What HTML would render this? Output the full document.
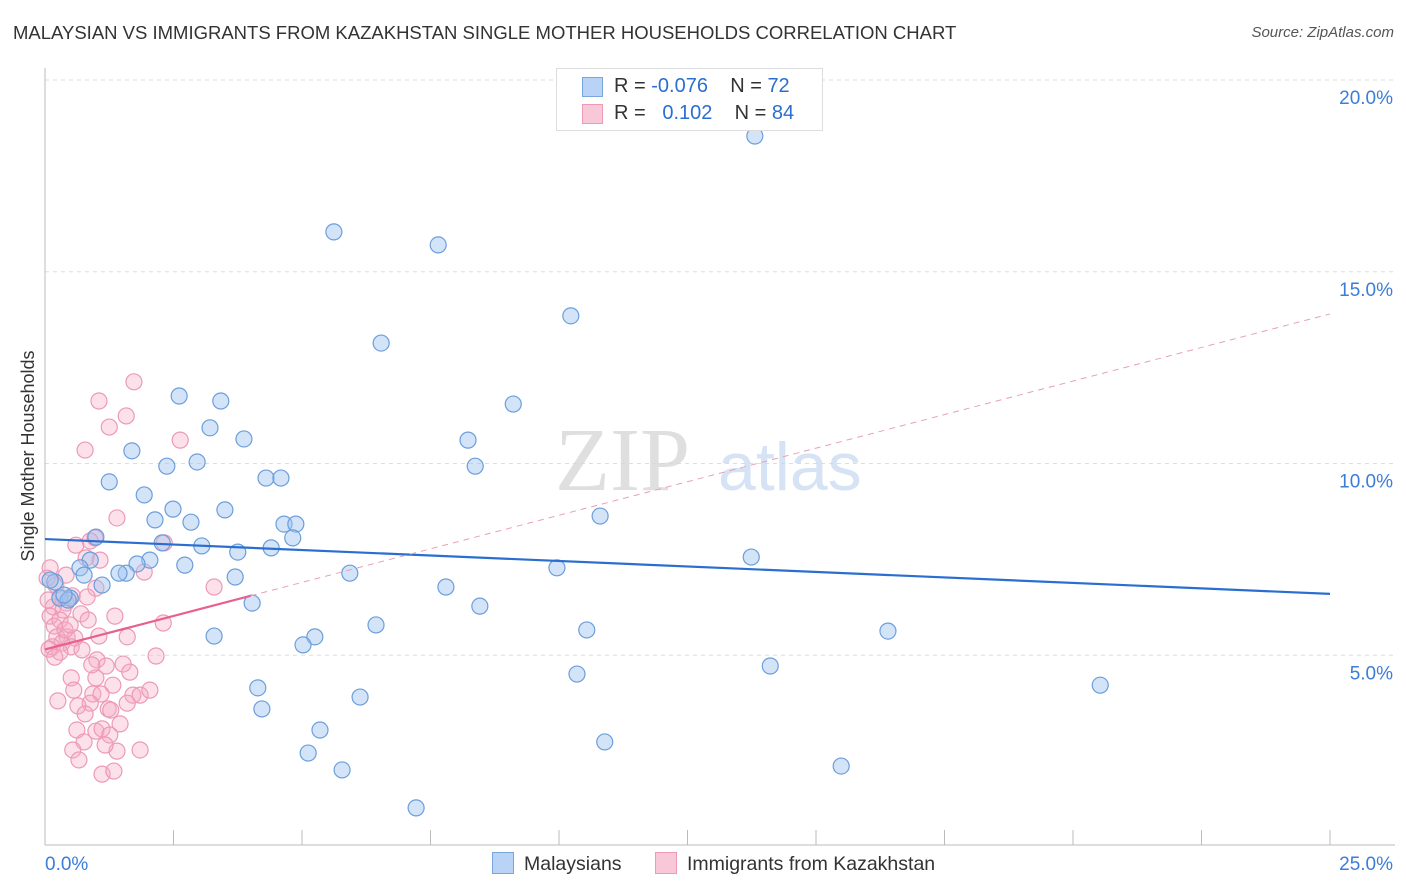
<!DOCTYPE html>
<html><head><meta charset="utf-8"><style>
body{margin:0;background:#fff;font-family:"Liberation Sans",sans-serif;}
#wrap{position:relative;width:1406px;height:892px;overflow:hidden;}
</style></head><body>
<div id="wrap">
<div style="position:absolute;left:13px;top:22px;font-size:18.5px;color:#333;">MALAYSIAN VS IMMIGRANTS FROM KAZAKHSTAN SINGLE MOTHER HOUSEHOLDS CORRELATION CHART</div>
<div style="position:absolute;right:12px;top:24px;font-size:15px;color:#555;font-style:italic;">Source: ZipAtlas.com</div>
<svg id="svg" width="1406" height="892" style="position:absolute;left:0;top:0"></svg>
</div>
<script>
const xTicks=[0,2.5,5,7.5,10,12.5,15,17.5,20,22.5,25];
const yTicks=[5,10,15,20];
const yTickLabels=["5.0%","10.0%","15.0%","20.0%"];
const blueX=[13.81,5.62,7.65,10.23,6.54,2.61,3.42,9.11,3.21,8.23,3.87,1.69,2.96,2.37,8.37,1.25,4.30,4.59,1.93,2.49,3.50,2.14,10.80,2.84,4.65,4.88,0.99,4.82,2.28,3.05,3.75,4.40,13.74,2.04,1.79,0.88,0.68,1.58,1.44,2.72,0.76,9.96,5.93,3.70,1.11,7.80,0.19,0.10,0.29,0.49,8.46,4.03,6.44,10.54,16.40,3.29,5.25,5.02,14.11,10.35,20.53,4.14,6.13,4.22,5.35,10.89,5.12,15.49,5.78,7.22,0.45,0.37];
const blueY=[18.54,16.04,15.70,13.85,13.14,11.76,11.63,11.55,10.93,10.61,10.64,10.33,10.04,9.93,9.93,9.52,9.62,9.62,9.18,8.81,8.79,8.53,8.63,8.47,8.42,8.42,8.08,8.06,7.93,7.85,7.69,7.80,7.56,7.48,7.38,7.48,7.28,7.14,7.14,7.35,7.09,7.28,7.14,7.04,6.83,6.78,6.91,6.96,6.49,6.49,6.28,6.36,5.79,5.66,5.63,5.50,5.48,5.27,4.72,4.51,4.22,4.15,3.91,3.60,3.05,2.74,2.45,2.11,2.01,1.02,6.44,6.57];
const pinkX=[1.73,1.05,1.58,1.25,2.63,0.78,1.40,0.97,0.60,0.88,2.32,0.80,1.93,0.10,0.04,3.29,0.99,0.29,0.53,0.82,0.41,0.16,0.35,1.36,0.70,0.10,2.30,0.18,0.23,0.43,0.58,1.05,1.60,0.33,0.14,0.51,0.29,0.08,0.72,2.16,0.19,1.01,1.52,1.19,0.99,0.51,1.32,0.56,0.93,1.09,1.71,1.85,0.25,0.88,1.60,0.64,1.23,1.28,0.78,1.46,0.62,0.99,1.11,1.26,0.76,1.40,0.54,1.85,1.11,1.34,0.29,0.39,0.06,0.21,0.49,0.84,0.91,1.65,2.04,1.17,0.66,0.41,1.07];
const pinkY=[12.13,11.63,11.24,10.95,10.61,10.35,8.58,8.06,7.87,7.98,7.93,7.54,7.17,7.28,7.01,6.78,6.75,6.52,6.55,6.52,6.36,6.26,6.18,6.02,6.08,6.02,5.84,5.76,5.48,5.48,5.45,5.50,5.48,5.32,5.22,5.22,5.08,5.16,5.14,4.98,4.95,4.88,4.77,4.72,4.41,4.41,4.22,4.09,3.99,3.99,3.96,3.96,3.81,3.75,3.75,3.68,3.60,3.57,3.47,3.21,3.05,3.02,3.08,2.92,2.74,2.50,2.53,2.53,1.90,1.98,5.92,5.66,6.44,6.83,5.79,5.92,4.75,4.56,4.09,2.66,2.27,7.09,7.48];
const blueTrend=[8.03,6.60];
const pinkTrend=[5.15,0.35];
const X=v=>45+v*51.4, Y=v=>847-v*38.35;
const svg=document.getElementById('svg');
const NS='http://www.w3.org/2000/svg';
function mk(tag,at){const e=document.createElementNS(NS,tag);for(const k in at)e.setAttribute(k,at[k]);svg.appendChild(e);return e;}
let e;
yTicks.forEach((t,i)=>{
 e=mk('line',{x1:45,x2:1395,y1:Y(t),y2:Y(t),stroke:'#ddd','stroke-dasharray':'4,4'});
 
 
 e=mk('text',{x:1393,y:Y(t)+24,'text-anchor':'end','font-size':19,fill:'#3b7dd8'});e.textContent=yTickLabels[i];
 
 
});
e=mk('line',{x1:45,x2:45,y1:68,y2:845,stroke:'#bbb'});


e=mk('line',{x1:45,x2:1395,y1:845,y2:845,stroke:'#bbb'});


xTicks.forEach(t=>{
 e=mk('line',{x1:X(t),x2:X(t),y1:830,y2:845,stroke:'#bbb'});
 
 
});
e=mk('text',{x:45,y:870,'font-size':19,fill:'#3b7dd8'});e.textContent='0.0%';


e=mk('text',{x:1393,y:870,'text-anchor':'end','font-size':19,fill:'#3b7dd8'});e.textContent='25.0%';


e=mk('text',{x:34,y:456,'text-anchor':'middle','font-size':18,fill:'#333',transform:'rotate(-90 34 456)'});e.textContent='Single Mother Households';


e=mk('text',{x:555,y:490,'font-size':90,fill:'#d8d8d8','font-family':'Liberation Serif,serif','opacity':0.8});e.textContent='ZIP';


e=mk('text',{x:718,y:490,'font-size':68,fill:'#c5d8f0','opacity':0.7});e.textContent='atlas';


pinkX.forEach((x,i)=>{
 e=mk('circle',{cx:X(x),cy:Y(pinkY[i]),r:8,fill:'rgba(245,170,195,0.35)',stroke:'#ec9ab6','stroke-width':1.2});
 
 
});
blueX.forEach((x,i)=>{
 e=mk('circle',{cx:X(x),cy:Y(blueY[i]),r:8,fill:'rgba(160,195,240,0.45)',stroke:'#6b9edb','stroke-width':1.2});
 
 
});
e=mk('line',{x1:X(0),y1:Y(blueTrend[0]),x2:X(25),y2:Y(blueTrend[1]),stroke:'#2a6fd0','stroke-width':2.2});


e=mk('line',{x1:X(0),y1:Y(pinkTrend[0]),x2:X(4),y2:Y(pinkTrend[0]+4*pinkTrend[1]),stroke:'#e8608e','stroke-width':2.2});


e=mk('line',{x1:X(4),y1:Y(pinkTrend[0]+4*pinkTrend[1]),x2:X(25),y2:Y(pinkTrend[0]+25*pinkTrend[1]),stroke:'#e8a0b8','stroke-width':1,'stroke-dasharray':'6,5'});


</script>
<div style="position:absolute;left:556px;top:68px;width:265px;height:61px;border:1px solid #ddd;background:#fff;font-size:20px;color:#333;">
 <div style="position:absolute;left:25px;top:8px;width:19px;height:18px;background:#b8d3f5;border:1px solid #7aa6de"></div>
 <div style="position:absolute;left:57px;top:6px;">R = <span style="color:#2a6fd0">-0.076</span>&nbsp;&nbsp;&nbsp; N = <span style="color:#2a6fd0">72</span></div>
 <div style="position:absolute;left:25px;top:35px;width:19px;height:18px;background:#f8c8d8;border:1px solid #ec9ab6"></div>
 <div style="position:absolute;left:57px;top:33px;">R = &nbsp;&nbsp;<span style="color:#2a6fd0">0.102</span>&nbsp;&nbsp;&nbsp; N = <span style="color:#2a6fd0">84</span></div>
</div>
<div style="position:absolute;left:492px;top:852px;font-size:19.5px;color:#333;">
 <span><span style="display:inline-block;width:20px;height:20px;background:#b8d3f5;border:1px solid #7aa6de;vertical-align:-4px;margin-right:10px"></span>Malaysians</span>
 <span style="margin-left:28px"><span style="display:inline-block;width:20px;height:20px;background:#f8c8d8;border:1px solid #ec9ab6;vertical-align:-4px;margin-right:10px"></span>Immigrants from Kazakhstan</span>
</div>
</body></html>
